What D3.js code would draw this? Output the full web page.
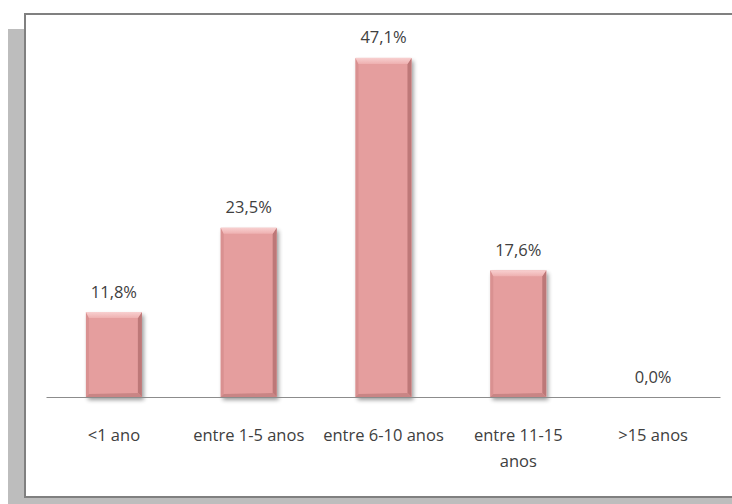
<!DOCTYPE html>
<html>
<head>
<meta charset="utf-8">
<script src="https://cdn.jsdelivr.net/npm/d3@7"></script>
<style>
  html, body { margin: 0; background: #fff; overflow: hidden; }
  svg { display: block; }
  text { font-family: "Open Sans", "Noto Sans", sans-serif; fill: #404040; }
</style>
</head>
<body>
<div id="chart"></div>
<script>
// categorias e valores (%)
var categories = ['<1 ano', 'entre 1-5 anos', 'entre 6-10 anos', 'entre 11-15 anos', '>15 anos'];
var values = [11.8, 23.5, 47.1, 17.6, 0.0];
// quebra de linha das legendas
var labelLines = [['<1 ano'], ['entre 1-5 anos'], ['entre 6-10 anos'], ['entre 11-15', 'anos'], ['>15 anos']];

var width = 732, height = 504;
var svg = d3.select('#chart').append('svg')
    .attr('width', width)
    .attr('height', height);

var defs = svg.append('defs');
var f = defs.append('filter').attr('id', 'shadow')
    .attr('x', '-30%').attr('y', '-30%').attr('width', '160%').attr('height', '160%');
f.append('feGaussianBlur').attr('in', 'SourceAlpha').attr('stdDeviation', 2);
f.append('feOffset').attr('dx', 2).attr('dy', 3).attr('result', 'b');
f.append('feComponentTransfer').append('feFuncA').attr('type', 'linear').attr('slope', 0.4);
var m = f.append('feMerge');
m.append('feMergeNode');
m.append('feMergeNode').attr('in', 'SourceGraphic');

// gradiente do topo
var tg = defs.append('linearGradient').attr('id', 'topGrad')
    .attr('x1', 0).attr('y1', 0).attr('x2', 0).attr('y2', 1);
tg.append('stop').attr('offset', '0%').attr('stop-color', '#f8d0d0');
tg.append('stop').attr('offset', '100%').attr('stop-color', '#eeb0b0');

// sombra e moldura
svg.append('rect')
    .attr('x', 8).attr('y', 29).attr('width', 730).attr('height', 480)
    .style('fill', '#bdbdbd');
svg.append('rect')
    .attr('x', 24).attr('y', 13).attr('width', 720).attr('height', 485)
    .style('fill', '#fff');
svg.append('path')
    .attr('d', 'M740,14 H25 V497 H740')
    .style('fill', 'none')
    .style('stroke', '#808080')
    .style('stroke-width', 2);

var plot = { left: 46.5, right: 720.5, top: 37, bottom: 397 };

var x = d3.scaleBand()
    .domain(categories)
    .range([plot.left, plot.right])
    .paddingInner(0.585)
    .paddingOuter(0.2925);

var y = d3.scaleLinear()
    .domain([0, 50])
    .range([plot.bottom, plot.top]);

var g = svg.append('g');

// barras com efeito bisel
var bars = g.selectAll('g.bar')
    .data(values.map(function (v, i) { return { cat: categories[i], value: v }; })
        .filter(function (d) { return d.value > 0; }))
    .enter()
    .append('g')
    .attr('class', 'bar');

bars.append('rect')
    .attr('x', function (d) { return x(d.cat); })
    .attr('y', function (d) { return y(d.value); })
    .attr('width', x.bandwidth())
    .attr('height', function (d) { return y(0) - y(d.value); })
    .style('fill', '#e59e9e')
    .attr('filter', 'url(#shadow)');

var bev = 6;
bars.each(function (d) {
    var x0 = x(d.cat), x1 = x0 + x.bandwidth();
    var y0 = y(d.value), y1 = y(0);
    var s = d3.select(this);
    // lado esquerdo
    s.append('polygon')
        .attr('points', [[x0, y0], [x0 + 3, y0 + bev], [x0 + 3, y1 - 3], [x0, y1]].join(' '))
        .style('fill', '#d99191');
    // lado direito escuro
    s.append('polygon')
        .attr('points', [[x1, y0], [x1, y1], [x1 - 4, y1 - 4], [x1 - 4, y0 + bev]].join(' '))
        .style('fill', '#bd7878');
    // base
    s.append('polygon')
        .attr('points', [[x0, y1], [x1, y1], [x1 - 4, y1 - 4], [x0 + 3, y1 - 3]].join(' '))
        .style('fill', '#c98585');
    // topo claro
    s.append('polygon')
        .attr('points', [[x0, y0], [x1, y0], [x1 - 4, y0 + bev], [x0 + 3, y0 + bev]].join(' '))
        .style('fill', 'url(#topGrad)');
});

// eixo x
g.append('line')
    .attr('x1', plot.left).attr('x2', plot.right)
    .attr('y1', y(0) + 0.5).attr('y2', y(0) + 0.5)
    .style('stroke', '#8c8c8c')
    .style('stroke-width', 1);

// rotulos de valores
g.selectAll('text.val')
    .data(values)
    .enter()
    .append('text')
    .attr('class', 'val')
    .attr('x', function (d, i) { return x(categories[i]) + x.bandwidth() / 2; })
    .attr('y', function (d) { return y(d) - 14.5; })
    .attr('text-anchor', 'middle')
    .style('font-size', '16.5px')
    .text(function (d) { return d.toFixed(1).replace('.', ',') + '%'; });

// rotulos de categorias
var cl = g.selectAll('text.cat')
    .data(categories)
    .enter()
    .append('text')
    .attr('class', 'cat')
    .attr('text-anchor', 'middle')
    .style('font-size', '16.5px')
    .attr('x', function (d) { return x(d) + x.bandwidth() / 2; })
    .attr('y', 441);
cl.each(function (d, i) {
    var t = d3.select(this);
    labelLines[i].forEach(function (line, k) {
        t.append('tspan')
            .attr('x', x(d) + x.bandwidth() / 2)
            .attr('dy', k === 0 ? 0 : 26)
            .text(line);
    });
});
</script>
</body>
</html>
